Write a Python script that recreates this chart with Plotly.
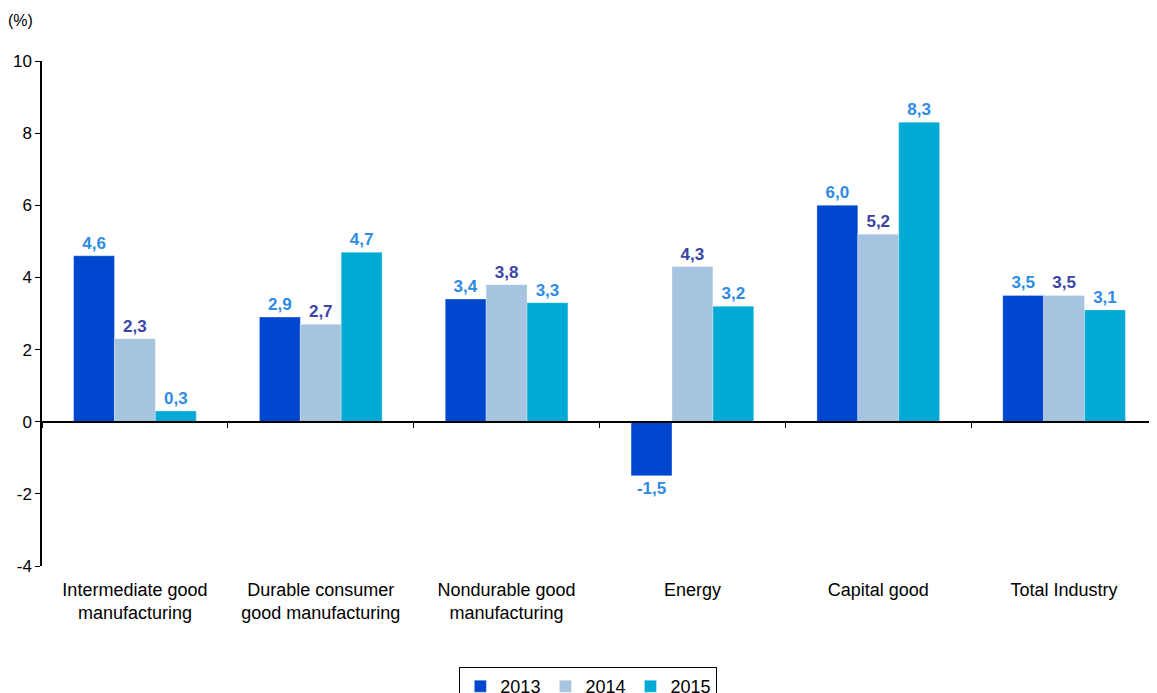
import plotly.graph_objects as go

categories = ["Intermediate good<br>manufacturing", "Durable consumer<br>good manufacturing",
              "Nondurable good<br>manufacturing", "Energy", "Capital good", "Total Industry"]
years = ["2013", "2014", "2015"]
values_2013 = [4.6, 2.9, 3.4, -1.5, 6.0, 3.5]
values_2014 = [2.3, 2.7, 3.8, 4.3, 5.2, 3.5]
values_2015 = [0.3, 4.7, 3.3, 3.2, 8.3, 3.1]
y_ticks = [-4, -2, 0, 2, 4, 6, 8, 10]

bar_colors = ["#0047CF", "#A6C3DF", "#00AAD4"]
label_colors = ["#2E8BE6", "#3B44A6", "#2E8BE6"]

fig = go.Figure()
for year, vals, bc, lc in zip(years, [values_2013, values_2014, values_2015], bar_colors, label_colors):
    fig.add_trace(go.Bar(
        x=categories, y=vals, name=year,
        marker=dict(color=bc, line=dict(color="rgba(255,255,255,0.6)", width=0.5)),
        texttemplate="%{y:.1f}", textposition="outside", cliponaxis=False,
        textfont=dict(color=lc, size=17, family="Liberation Sans, Arial", weight="bold"),
    ))

# invisible trace so the zero-line axis with boundary ticks is drawn
fig.add_trace(go.Bar(x=categories, y=[0] * 6, xaxis="x2", showlegend=False,
                     hoverinfo="skip", marker=dict(color="rgba(0,0,0,0)")))

# page body adds an 8px offset, margins compensate for it
fig.update_layout(
    width=1157, height=693,
    paper_bgcolor="white", plot_bgcolor="white",
    font=dict(family="Liberation Sans, Arial", size=17, color="black"),
    separators=",.",
    barmode="group", bargap=0.34, bargroupgap=0,
    margin=dict(l=34, r=8, t=53, b=135, autoexpand=False),
    xaxis=dict(type="category", categoryarray=categories, range=[-0.5, 5.5],
               showline=False, ticks="", showgrid=False, tickfont=dict(size=18),
               ticklabelstandoff=11, automargin=False),
    xaxis2=dict(type="category", categoryarray=categories, range=[-0.5, 5.5],
                overlaying="x", anchor="free", position=4 / 14,
                showline=True, linecolor="black", linewidth=1.5,
                ticks="outside", tickson="boundaries", ticklen=6, tickcolor="black",
                showticklabels=False, showgrid=False),
    yaxis=dict(range=[-4, 10], tickvals=y_ticks, ticktext=[str(v) for v in y_ticks],
               showline=True, linecolor="black", linewidth=1.5,
               ticks="outside", ticklen=5, tickcolor="black", showgrid=False,
               zeroline=False, tickfont=dict(size=17), automargin=False),
    legend=dict(orientation="h", x=0.49, xanchor="center", y=-0.2, yanchor="top",
                bordercolor="black", borderwidth=1, font=dict(size=18),
                itemwidth=30, traceorder="normal"),
    annotations=[dict(text="(%)", xref="paper", yref="paper", x=-0.032, y=1.06,
                      xanchor="left", yanchor="bottom", showarrow=False, font=dict(size=16))],
)

fig.write_html("out.html")
